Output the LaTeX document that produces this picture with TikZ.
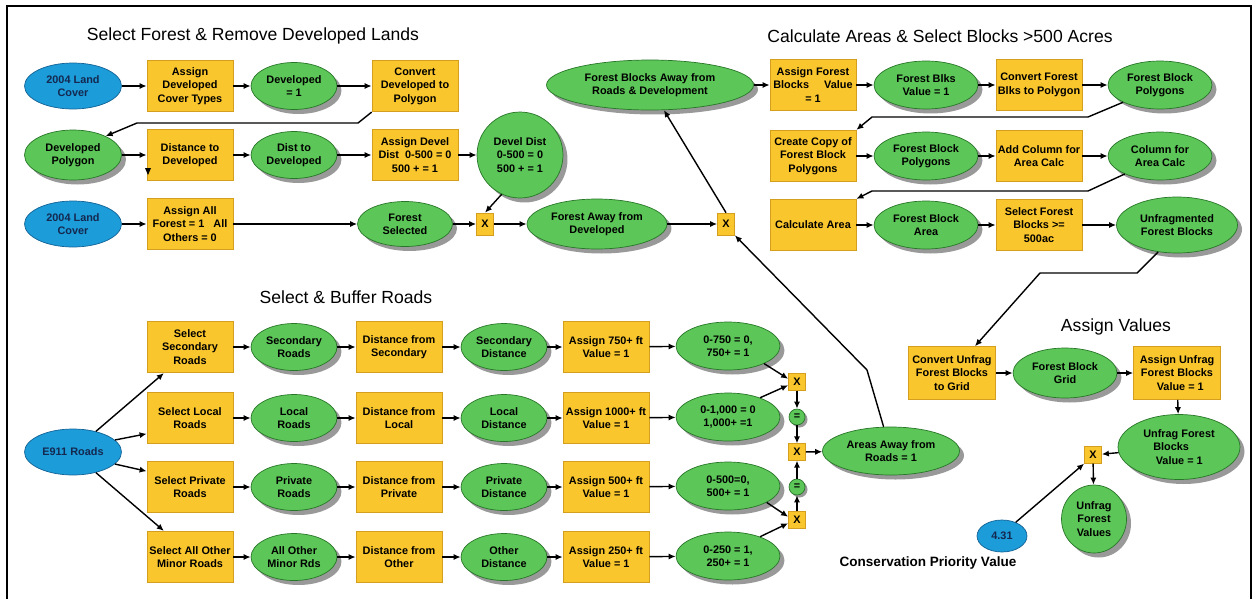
\documentclass[tikz,border=0pt]{standalone}
\usepackage{fontspec}
\setmainfont{Liberation Sans}
\usetikzlibrary{shapes.geometric,arrows.meta,shadows}

\definecolor{boxfill}{RGB}{250,198,45}
\definecolor{boxedge}{RGB}{212,158,30}
\definecolor{ellfill}{RGB}{92,198,88}
\definecolor{elledge}{RGB}{40,118,40}
\definecolor{srcfill}{RGB}{28,156,216}
\definecolor{srcedge}{RGB}{20,98,150}
\definecolor{srctext}{RGB}{20,40,80}

\newcommand{\nodefont}{\fontsize{6.2}{7.6}\selectfont\bfseries}

\tikzset{
box/.style={rectangle,draw=boxedge,fill=boxfill,minimum width=1.72cm,minimum height=1.03cm,align=center,inner sep=1pt,font=\nodefont},
ell/.style={ellipse,draw=elledge,fill=ellfill,minimum width=1.72cm,minimum height=0.94cm,inner sep=0pt,align=center,font=\nodefont,
  drop shadow={shadow xshift=0.09cm,shadow yshift=-0.09cm,fill=black!40,opacity=1}},
wide/.style={minimum width=2.08cm,minimum height=0.96cm},
src/.style={ellipse,draw=srcedge,fill=srcfill,minimum width=1.94cm,minimum height=0.92cm,inner sep=0pt,align=center,font=\nodefont,text=srctext},
xbox/.style={rectangle,draw=boxedge,fill=boxfill,minimum width=0.34cm,minimum height=0.33cm,inner sep=0pt,font=\nodefont},
eqc/.style={circle,draw=elledge,fill=ellfill,minimum size=0.32cm,inner sep=0pt,font=\nodefont,
  drop shadow={shadow xshift=0.05cm,shadow yshift=-0.05cm,fill=black!40,opacity=1}},
arr/.style={-{Latex[length=4pt,width=3.5pt]},line width=0.8pt},
title/.style={font=\fontsize{10}{12}\selectfont}
}

\begin{document}
\begin{tikzpicture}[x=0.02cm,y=-0.02cm]
\useasboundingbox (0,0) rectangle (1257,599);
\draw[line width=1pt] (7,599)--(7,6)--(1251,6)--(1251,599);

\node[title] (t1) at (253,36) {Select Forest \& Remove Developed Lands};
\node[title] (t2) at (940,36) {Calculate Areas \& Select Blocks >500 Acres};
\node[title] (t3) at (346,297) {Select \& Buffer Roads};
\node[title] (t4) at (1116,327) {Assign Values};
\node[font=\fontsize{7.7}{9}\selectfont\bfseries] (cpv) at (928,563) {Conservation Priority Value};

%forest and developed lands
\node[src] (lc1) at (73,86) {2004 Land\\Cover};
\node[box] (adc) at (190,86) {Assign\\Developed\\Cover Types};
\node[ell] (dev) at (294,86) {Developed\\= 1};
\node[box] (cdp) at (415,86) {Convert\\Developed to\\Polygon};

\node[ell,minimum width=1.94cm,minimum height=1cm] (dpoly) at (73,155) {Developed\\Polygon};
\node[box] (dtd) at (190,155) {Distance to\\Developed};
\node[ell] (dist) at (294,155) {Dist to\\Developed};
\node[box] (adv) at (415,155) {Assign Devel\\Dist~~0-500 = 0\\500 + = 1};
\node[ell,minimum size=1.72cm] (dd) at (520,155) {Devel Dist\\0-500 = 0\\500 + = 1};

\node[src] (lc2) at (73,224) {2004 Land\\Cover};
\node[box] (aaf) at (190,224) {Assign All\\Forest = 1~~~All\\Others = 0};
\node[ell,minimum width=1.9cm,minimum height=0.9cm] (fsel) at (405,224) {Forest\\Selected};
\node[xbox,minimum height=0.44cm] (x1) at (485,224) {X};
\node[ell,minimum width=2.8cm,minimum height=1cm] (fad) at (597,224) {Forest Away from\\Developed};
\node[xbox,minimum height=0.44cm] (x2) at (726,224) {X};
\node[ell,minimum width=4.14cm,minimum height=1cm] (fba) at (650,85) {Forest Blocks Away from\\Roads \& Development};

\draw[arr] (lc1)--(adc); \draw[arr] (adc)--(dev); \draw[arr] (dev)--(cdp);
\draw[arr] (cdp.south west)--(358,123)--(137,123)--(dpoly.30);
\draw[arr] (dpoly)--(dtd); \draw[arr] (dtd)--(dist); \draw[arr] (dist)--(adv); \draw[arr] (adv)--(dd);
\fill (145,168)--(151,168)--(148,175)--cycle;
\draw[arr] (lc2)--(aaf); \draw[arr] (aaf)--(fsel); \draw[arr] (fsel)--(x1); \draw[arr] (dd.245)--(x1.north);
\draw[arr] (x1)--(fad); \draw[arr] (fad)--(x2); \draw[arr] (x2.north)--(fba.-61);

%areas and blocks
\node[box] (afb) at (813,85) {Assign Forest\\Blocks~~~~~Value\\= 1};
\node[ell,wide] (fbv) at (926,85) {Forest Blks\\Value = 1};
\node[box] (cfb) at (1039,85) {Convert Forest\\Blks to Polygon};
\node[ell,wide] (fbp) at (1160,85) {Forest Block\\Polygons};

\node[box] (ccopy) at (813,156) {Create Copy of\\Forest Block\\Polygons};
\node[ell,wide] (fbp2) at (926,156) {Forest Block\\Polygons};
\node[box] (acol) at (1039,156) {Add Column for\\Area Calc};
\node[ell,wide] (col) at (1160,156) {Column for\\Area Calc};

\node[box] (calc) at (813,225) {Calculate Area};
\node[ell,wide] (fbarea) at (926,225) {Forest Block\\Area};
\node[box] (sfb) at (1039,225) {Select Forest\\Blocks >=\\500ac};
\node[ell,minimum width=2.42cm,minimum height=1.12cm] (unfr) at (1177,225) {Unfragmented\\Forest Blocks};

\draw[arr] (fba)--(afb); \draw[arr] (afb)--(fbv); \draw[arr] (fbv)--(cfb); \draw[arr] (cfb)--(fbp);
\draw[arr] (fbp.205)--(1088,117)--(872,117)--(ccopy.north east);
\draw[arr] (ccopy)--(fbp2); \draw[arr] (fbp2)--(acol); \draw[arr] (acol)--(col);
\draw[arr] (col.207)--(1088,191)--(872,191)--(calc.north east);
\draw[arr] (calc)--(fbarea); \draw[arr] (fbarea)--(sfb); \draw[arr] (sfb)--(unfr);

%roads
\node[src] (e911) at (73,452) {E911 Roads};

\node[box] (ssec) at (190,347) {Select\\Secondary\\Roads};
\node[ell] (rsec) at (294,347) {Secondary\\Roads};
\node[box] (dsec) at (399,347) {Distance from\\Secondary};
\node[ell] (esec) at (504,347) {Secondary\\Distance};
\node[box] (asec) at (606,347) {Assign 750+ ft\\Value = 1};
\node[ell,wide] (vsec) at (728,346) {0-750 = 0,\\750+ = 1};

\node[box] (sloc) at (190,418) {Select Local\\Roads};
\node[ell] (rloc) at (294,418) {Local\\Roads};
\node[box] (dloc) at (399,418) {Distance from\\Local};
\node[ell] (eloc) at (504,418) {Local\\Distance};
\node[box] (aloc) at (606,418) {Assign 1000+ ft\\Value = 1};
\node[ell,wide] (vloc) at (728,417) {0-1,000 = 0\\1,000+ =1};

\node[box] (spri) at (190,487) {Select Private\\Roads};
\node[ell] (rpri) at (294,487) {Private\\Roads};
\node[box] (dpri) at (399,487) {Distance from\\Private};
\node[ell] (epri) at (504,487) {Private\\Distance};
\node[box] (apri) at (606,487) {Assign 500+ ft\\Value = 1};
\node[ell,wide] (vpri) at (728,486) {0-500=0,\\500+ = 1};

\node[box] (soth) at (190,557) {Select All Other\\Minor Roads};
\node[ell] (roth) at (294,557) {All Other\\Minor Rds};
\node[box] (doth) at (399,557) {Distance from\\Other};
\node[ell] (eoth) at (504,557) {Other\\Distance};
\node[box] (aoth) at (606,557) {Assign 250+ ft\\Value = 1};
\node[ell,wide] (voth) at (728,556) {0-250 = 1,\\250+ = 1};

\node[xbox] (xt) at (797,382) {X};
\node[eqc] (eq1) at (797,417) {=};
\node[xbox] (xm) at (797,452) {X};
\node[eqc] (eq2) at (797,487) {=};
\node[xbox] (xb) at (797,520) {X};
\node[ell,minimum width=2.74cm,minimum height=0.96cm] (aar) at (891,451) {Areas Away from\\Roads = 1};

\draw[arr] (e911.42)--(ssec.225); \draw[arr] (e911.16)--(sloc.200); \draw[arr] (e911.-16)--(spri.160); \draw[arr] (e911.-42)--(soth.135);
\draw[arr] (ssec)--(rsec); \draw[arr] (rsec)--(dsec); \draw[arr] (dsec)--(esec); \draw[arr] (esec)--(asec); \draw[arr] (asec)--(vsec);
\draw[arr] (sloc)--(rloc); \draw[arr] (rloc)--(dloc); \draw[arr] (dloc)--(eloc); \draw[arr] (eloc)--(aloc); \draw[arr] (aloc)--(vloc);
\draw[arr] (spri)--(rpri); \draw[arr] (rpri)--(dpri); \draw[arr] (dpri)--(epri); \draw[arr] (epri)--(apri); \draw[arr] (apri)--(vpri);
\draw[arr] (soth)--(roth); \draw[arr] (roth)--(doth); \draw[arr] (doth)--(eoth); \draw[arr] (eoth)--(aoth); \draw[arr] (aoth)--(voth);
\draw[arr] (vsec.-26)--(xt.160); \draw[arr] (vloc.31)--(xt.200); \draw[arr] (vpri.-23)--(xb.160); \draw[arr] (voth.31)--(xb.200);
\draw[arr] (xt)--(eq1); \draw[arr] (eq1)--(xm); \draw[arr] (xb)--(eq2); \draw[arr] (eq2)--(xm); \draw[arr] (xm)--(aar);
\draw[arr] (aar.107)--(867,370)--(x2.south east);

%assign values
\node[box,minimum width=1.74cm,minimum height=1.06cm] (cuf) at (952,373) {Convert Unfrag\\Forest Blocks\\to Grid};
\node[ell,wide,minimum height=1cm] (fbg) at (1065,373) {Forest Block\\Grid};
\node[box,minimum width=1.74cm,minimum height=1.06cm] (aub) at (1177,373) {Assign Unfrag\\Forest Blocks\\\hspace*{0.6em}Value = 1};
\node[ell,minimum width=2.44cm,minimum height=1.3cm,align=left] (ufb) at (1179,447) {Unfrag Forest\\\hspace*{0.2cm}Blocks\\\hspace*{0.25cm}Value = 1};
\node[xbox] (xv) at (1093,455) {X};
\node[ell,minimum width=1.3cm,minimum height=1.36cm] (ufv) at (1094,519) {Unfrag\\Forest\\Values};
\node[src,minimum width=1cm,minimum height=0.64cm] (v431) at (1002,536) {4.31};

\draw[arr] (unfr.235)--(1137,273)--(1040,273)--([xshift=0.46cm]cuf.north);
\draw[arr] (cuf)--(fbg); \draw[arr] (fbg)--(aub); \draw[arr] (aub)--(ufb); \draw[arr] (ufb)--(xv); \draw[arr] (xv)--(ufv);
\draw[arr] (v431.45)--(xv.south west);

\end{tikzpicture}
\end{document}
